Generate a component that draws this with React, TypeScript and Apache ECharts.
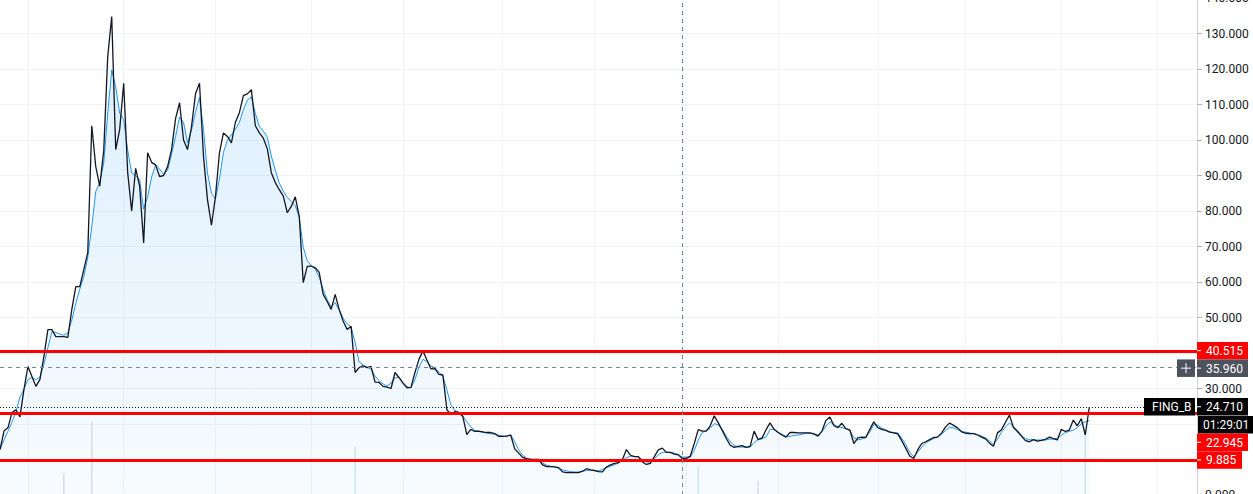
import React, { useEffect, useRef } from "react";
import * as echarts from "echarts";

// ---- data ----
const symbolName = "FING_B";
const lastPrice = 24.71;
const countdownText = "01:29:01";
const crosshairPrice = 35.96;
const crosshairBar = 171;
const levels = [40.515, 22.945, 9.885];
const yMin = 0;
const yMax = 140;
const yStep = 10;
const barCount = 301;
const categories = Array.from({ length: barCount }, (_, i) => String(i));
const monthStartBars = [7, 31, 54, 78, 101, 126, 149, 172, 195, 220, 242, 266, 290];

const price = [
  12.8, 18, 19, 23.2, 24, 22, 29.7, 36.2, 33.4, 30.6,
  32.5, 39, 46.6, 46.6, 44.6, 44.6, 44.6, 44.4, 52.3, 58.7,
  58.7, 63.5, 68.3, 104, 92.5, 87, 97, 123.5, 134.8, 97.3,
  103, 116, 90.8, 80, 92, 87, 71, 96.4, 93.7, 93,
  89.7, 90, 92.5, 97.3, 106, 110.5, 100, 97.3, 103.8, 113,
  116, 95.4, 83.2, 76, 84, 96.4, 102, 101, 99.2, 105,
  107.7, 112.5, 113, 114.2, 104, 102, 100.5, 97.5, 90.8, 88,
  86, 84.2, 79.5, 81.3, 84, 78.5, 59.8, 64.4, 64.5, 64,
  62.7, 56.5, 54.5, 52.3, 56.5, 52.3, 49, 46.6, 47.5, 34.5,
  35.9, 36.4, 35.9, 36.2, 31.8, 31.7, 30.6, 30.4, 30, 34.5,
  33.1, 31.5, 30.2, 30.3, 34.5, 38.2, 40.6, 38, 35.5, 35.6,
  34, 33.8, 24, 22.7, 23.5, 23.2, 22.1, 17, 18.5, 17.9,
  18, 17.8, 17.6, 17.6, 17.3, 16.5, 16.5, 16.6, 16.9, 13,
  11.8, 10.6, 10.2, 10, 10, 10, 8.5, 8, 8, 7.9,
  7.7, 6.5, 6.3, 6.3, 6.3, 6.3, 6.7, 7.4, 7.1, 6.9,
  6.6, 6.5, 7.9, 8.5, 8.9, 9.1, 10, 12.8, 11.2, 10.8,
  10.8, 9.3, 8.6, 8.9, 10.8, 12.7, 13.2, 12, 12, 11.5,
  11.3, 10.3, 10.3, 10.9, 14.5, 18.4, 18, 18, 19.5, 22.3,
  20.4, 18.2, 16, 14, 13.4, 13.7, 13.9, 13.4, 13.7, 18,
  15.6, 16.1, 18.4, 20.3, 18.5, 17.6, 16.9, 16.3, 17.6, 17.6,
  17.5, 17.5, 17.5, 17.5, 17.2, 16.6, 18, 21, 22, 19.5,
  19, 20.2, 18.7, 18.3, 14.5, 16.1, 16.3, 16.2, 18.5, 20.6,
  19, 18.5, 18.2, 17.7, 17.5, 17.2, 15.3, 13.2, 11, 10.3,
  12.7, 14.5, 15, 15.6, 16.2, 16.3, 17.5, 19.2, 20.3, 19.6,
  18.9, 17.8, 17.4, 17.3, 17.3, 16.9, 16.3, 15.8, 14.6, 13.7,
  17.5, 18.4, 20.5, 22.5, 19, 17.9, 16.6, 15.3, 15, 15.6,
  15.2, 15.4, 15.7, 16.3, 15.9, 15.5, 18.5, 17.9, 18.3, 21.1,
  19.5, 21.5, 16.9, 24.71,
];

const movingAverage = [
  12.8, 15.5, 18, 20.5, 23.5, 27.6, 29.8, 32.5, 33.1, 32.5,
  33.2, 36.8, 41.5, 46, 45.8, 45.3, 45, 45.6, 49.3, 54,
  58, 61.5, 67, 75.5, 85.5, 88, 93.5, 107.6, 119.7, 115,
  107.5, 105.8, 97.2, 90.7, 90, 88.8, 80.5, 84, 89.6, 93,
  91.8, 90.3, 91.5, 96, 101, 106.5, 105, 99.2, 102.8, 107.8,
  112, 103, 90.7, 85, 83.5, 89, 96.5, 100, 101.5, 103,
  105, 108.5, 111.3, 112.1, 107.5, 103.8, 102.5, 100.8, 95.5, 91.5,
  87.9, 85.6, 83.8, 82.7, 81.5, 78.3, 69.8, 66, 64.6, 63.6,
  61.4, 57.9, 55, 53, 54.2, 52.1, 49.8, 48.2, 47.3, 43,
  37.5, 36.6, 36, 35.4, 33.5, 32.2, 31.3, 30.7, 31.5, 33,
  33.1, 31.7, 30.5, 30.2, 32.5, 36, 38.2, 37.6, 36.3, 35.9,
  34.6, 33.5, 29.6, 25.4, 23.8, 23.4, 22.3, 20.6, 19.2, 18.2,
  17.9, 17.6, 17.5, 17.3, 17.1, 16.8, 16.6, 16.6, 16.9, 15,
  12.7, 11.2, 10.4, 10.1, 10, 9.9, 9, 8.4, 8.1, 7.9,
  7.5, 7.1, 6.8, 6.6, 6.5, 6.5, 6.7, 6.9, 7, 6.9,
  6.8, 7.2, 7.7, 8.1, 8.5, 9, 9.8, 10.5, 10.9, 10.9,
  10.7, 10, 9.3, 9.3, 10.2, 11.3, 12, 12.1, 12, 11.8,
  11.4, 10.7, 10.7, 10.7, 12.5, 15.5, 17.6, 18.1, 18.8, 20.1,
  19.8, 18.5, 16.6, 15, 14, 13.5, 13.5, 13.5, 13.5, 14.8,
  15.6, 15.8, 16.4, 18.5, 18.5, 17.7, 17.1, 16.5, 16.5, 16.8,
  16.9, 17.1, 17.4, 17.4, 17.1, 16.9, 17.8, 19.4, 20.6, 19.9,
  19.2, 19, 18.7, 18.2, 16.2, 15.5, 15.8, 16.2, 17.8, 19.8,
  19.7, 18.8, 18.3, 17.8, 17.6, 17.5, 16, 14.2, 12, 10.8,
  12.1, 13.5, 14.7, 15.3, 15.9, 16.4, 17.1, 18.2, 19.1, 18.9,
  18.4, 17.9, 17.7, 17.5, 17.3, 17, 16.6, 16.1, 15.2, 14.2,
  15.8, 17.7, 19.2, 20.3, 19.2, 18.2, 16.8, 15.9, 15.6, 15.5,
  15.5, 15.5, 15.5, 15.7, 15.8, 16, 16.8, 17.6, 17.9, 18.3,
  19, 20, 20.6, 21,
];

const volumeBars = [16, 23, 89, 175, 190, 272];
const volumeValues = [4.4, 14.7, 9.7, 5.8, 2.8, 11.9];
const volumeUp = [false, false, true, true, false, true];
const volumeMax = 100;

const FONT = "Roboto, 'Noto Sans', sans-serif";

export default function App() {
  const ref = useRef<HTMLDivElement>(null);

  useEffect(() => {
    if (!ref.current) return;
    const chart = echarts.init(ref.current, undefined, { renderer: "svg" });

    let hiddenTicks: number[] = [];
    const yLabelFormatter = (v: number) =>
      hiddenTicks.some((h) => Math.abs(h - v) < 1e-6) ? "" : v.toFixed(3);

    const option: any = {
      animation: false,
      backgroundColor: "#ffffff",
      grid: {
        left: 0,
        right: 56,
        top: -2,
        bottom: -1,
        containLabel: false,
        outerBoundsMode: "none",
      },
      xAxis: {
        type: "category",
        data: categories,
        boundaryGap: false,
        axisLine: { show: false },
        axisTick: { show: false },
        axisLabel: { show: false },
        splitLine: {
          show: true,
          interval: (idx: number) => monthStartBars.includes(idx),
          lineStyle: { color: "#F0F3FA", width: 1 },
        },
      },
      yAxis: [
        {
          type: "value",
          position: "right",
          min: yMin,
          max: yMax,
          interval: yStep,
          axisLine: { show: true, lineStyle: { color: "#D1D4DC", width: 1 } },
          axisTick: { show: true, length: 5, lineStyle: { color: "#B2B5BE" } },
          axisLabel: {
            show: true,
            margin: 8,
            color: "#131722",
            fontSize: 12,
            fontFamily: FONT,
            formatter: yLabelFormatter,
          },
          splitLine: { show: true, lineStyle: { color: "#F0F3FA", width: 1 } },
        },
        {
          type: "value",
          show: false,
          min: 0,
          max: volumeMax,
          splitLine: { show: false },
        },
      ],
      series: [
        {
          type: "bar",
          yAxisIndex: 1,
          barWidth: 1.5,
          z: 1,
          silent: true,
          data: volumeBars.map((b, k) => ({
            value: [b, volumeValues[k]],
            itemStyle: {
              color: volumeUp[k] ? "rgba(38,166,154,0.22)" : "rgba(120,123,134,0.25)",
            },
          })),
        },
        {
          type: "line",
          name: "MA",
          data: movingAverage,
          showSymbol: false,
          symbol: "none",
          z: 2,
          lineStyle: { color: "#2196F3", width: 1 },
          areaStyle: {
            color: new echarts.graphic.LinearGradient(0, 0, 0, 1, [
              { offset: 0, color: "rgba(33,150,243,0.21)" },
              { offset: 1, color: "rgba(33,150,243,0.05)" },
            ]),
          },
        },
        {
          type: "line",
          name: symbolName,
          data: price,
          showSymbol: false,
          symbol: "none",
          z: 3,
          lineStyle: { color: "#131722", width: 1.3 },
          markLine: {
            silent: true,
            symbol: ["none", "none"],
            label: { show: false },
            z: 5,
            data: [
              ...levels.map((v) => ({
                yAxis: v,
                lineStyle: { color: "#FF0000", width: 3, type: "solid" },
              })),
              { yAxis: lastPrice, lineStyle: { color: "#131722", width: 1, type: [1, 2] } },
              { yAxis: crosshairPrice, lineStyle: { color: "#758696", width: 1, type: [4, 4] } },
              {
                xAxis: categories[crosshairBar],
                lineStyle: { color: "#758696", width: 1, type: [4, 4] },
              },
            ],
          },
        },
      ],
    };
    chart.setOption(option);

    const py = (v: number) => chart.convertToPixel({ yAxisIndex: 0 }, v) as number;
    const axisX = 1197;
    const H = 17.5;

    type Badge = { text: string; desired: number; bg: string; w: number; x: number; dash: boolean };
    const badges: Badge[] = [
      { text: levels[0].toFixed(3), desired: py(levels[0]) - 0.5, bg: "#FF0000", w: 51, x: axisX, dash: true },
      { text: crosshairPrice.toFixed(3), desired: py(crosshairPrice), bg: "#4C525E", w: 51, x: axisX, dash: true },
      { text: lastPrice.toFixed(3), desired: py(lastPrice) - 0.5, bg: "#000000", w: 51, x: axisX, dash: true },
      { text: countdownText, desired: py(lastPrice) + H, bg: "#000000", w: 56, x: axisX + 1, dash: false },
      { text: levels[1].toFixed(3), desired: py(levels[1]), bg: "#FF0000", w: 51, x: axisX, dash: true },
      { text: levels[2].toFixed(3), desired: py(levels[2]), bg: "#FF0000", w: 45, x: axisX, dash: true },
    ];
    let prevBottom = -Infinity;
    const centers: number[] = [];
    badges.forEach((b) => {
      const top = Math.max(b.desired - H / 2, prevBottom);
      centers.push(top + H / 2);
      prevBottom = top + H;
    });

    // hide axis tick labels that sit under a badge
    const tickValues: number[] = [];
    for (let v = yMin; v <= yMax; v += yStep) tickValues.push(v);
    hiddenTicks = tickValues.filter((v) =>
      centers.some((c) => Math.abs(py(v) - c) < H / 2 + 5)
    );

    const textStyle = (text: string, x: number, y: number) => ({
      text,
      x,
      y,
      fill: "#ffffff",
      fontSize: 12,
      fontFamily: FONT,
      verticalAlign: "middle",
      align: "left",
    });

    const graphics: any[] = [];
    badges.forEach((b, k) => {
      const yc = centers[k];
      const children: any[] = [
        { type: "rect", z: 100, shape: { x: b.x, y: yc - H / 2, width: b.w, height: H }, style: { fill: b.bg } },
        { type: "text", z: 101, style: textStyle(b.text, b.dash ? b.x + 9 : b.x + 5, yc + 0.5) },
      ];
      if (b.dash) {
        children.push({
          type: "line",
          z: 101,
          shape: { x1: b.x, y1: yc, x2: b.x + 4, y2: yc },
          style: { stroke: "#ffffff", lineWidth: 1 },
        });
      }
      graphics.push({ type: "group", z: 100, children });
    });

    // crosshair "+" button
    const cy = centers[1];
    graphics.push({
      type: "group",
      z: 100,
      children: [
        { type: "rect", z: 100, shape: { x: axisX - 20, y: cy - H / 2, width: 18, height: H }, style: { fill: "#4C525E" } },
        { type: "line", z: 101, shape: { x1: axisX - 16, y1: cy, x2: axisX - 6, y2: cy }, style: { stroke: "#fff", lineWidth: 1 } },
        { type: "line", z: 101, shape: { x1: axisX - 11, y1: cy - 5, x2: axisX - 11, y2: cy + 5 }, style: { stroke: "#fff", lineWidth: 1 } },
      ],
    });

    // symbol name badge next to last price
    const ly = centers[2];
    graphics.push({
      type: "group",
      z: 100,
      children: [
        { type: "rect", z: 100, shape: { x: axisX - 53, y: ly - H / 2, width: 51, height: H }, style: { fill: "#000000" } },
        { type: "text", z: 101, style: textStyle(symbolName, axisX - 45, ly + 0.5) },
      ],
    });

    chart.setOption({
      yAxis: [{ axisLabel: { formatter: yLabelFormatter } }, {}],
      graphic: graphics,
    });

    return () => chart.dispose();
  }, []);

  return (
    <div
      ref={ref}
      style={{ position: "fixed", left: 0, top: 0, width: 1253, height: 494, background: "#fff" }}
    />
  );
}
